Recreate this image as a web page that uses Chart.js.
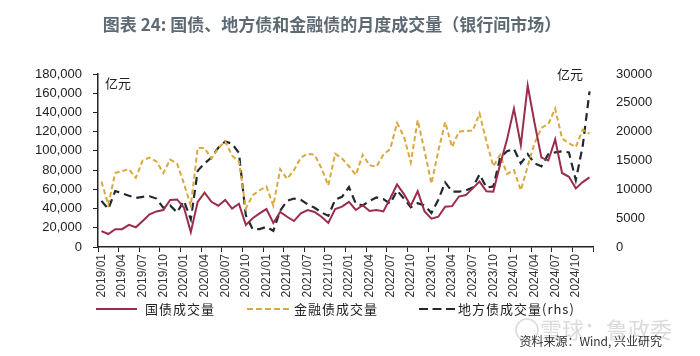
<!DOCTYPE html>
<html><head><meta charset="utf-8">
<script src="https://cdn.jsdelivr.net/npm/chart.js@4.4.1/dist/chart.umd.min.js"></script>
<style>html,body{margin:0;padding:0;background:#fff;}#wrap{position:relative;width:700px;height:356px;}</style>
</head><body><div id="wrap"><canvas id="c" width="700" height="356"></canvas></div>
<script>
// Categories: monthly, 2019/01 - 2024/12
const years = [2019, 2020, 2021, 2022, 2023, 2024];
const monthNames = ['01','02','03','04','05','06','07','08','09','10','11','12'];
const months = [];
years.forEach(y => monthNames.forEach(m => months.push(y + '/' + m)));

// 国债成交量 (亿元, left axis)
const govBond = [16500,13500,18500,18500,23000,20500,27000,34000,37000,38500,
  49000,49500,41000,15500,47000,56500,47000,43000,49000,40000,
  45000,23000,30000,35000,39500,25000,36500,31500,27000,35000,
  38500,36500,31500,25000,39500,42000,47000,38500,43500,37500,
  38500,37000,50500,65000,55000,43000,58000,37000,29500,31500,
  42000,42500,52500,54000,61000,68000,58000,57500,86000,112000,
  144000,106000,168000,129000,93000,90000,112000,77000,73000,61000,67500,72500];
// 金融债成交量 (亿元, left axis)
const finBond = [68000,44000,77000,79000,81000,72000,90000,93000,89000,77000,
  91000,87000,66000,43000,103000,103000,92000,103000,110000,95000,
  89000,40000,54000,59000,63000,43000,81000,71000,80000,93000,
  97000,96000,82000,64000,97000,92000,84000,75000,96000,85000,
  83500,96000,102000,129000,115000,88000,132000,100000,66000,100000,
  130000,104000,120000,121000,121000,139000,110000,84000,96000,76000,
  80000,59000,84000,108000,124000,128000,144000,113000,108000,104000,122000,118000];
// 地方债成交量 (亿元, right axis)
const localBond = [8000,6600,9700,9300,8900,8500,8700,8800,8400,6800,
  7200,6000,8000,4800,13200,14500,15500,17200,18300,17900,
  16300,5500,3100,3100,3500,2800,6300,8000,8400,8200,
  7400,6800,6000,5400,8200,8700,10400,7500,7200,8000,
  8600,8300,7500,9800,8400,6900,7600,7200,5900,8200,
  11200,9600,9600,9800,10300,12600,10300,10500,15500,16600,
  17000,14500,16100,14500,14000,16100,16400,16600,16400,11600,17500,27000];

const leftTicks = [0,20000,40000,60000,80000,100000,120000,140000,160000,180000];
const rightTicks = [0,5000,10000,15000,20000,25000,30000];

const titleText = '图表 24: 国债、地方债和金融债的月度成交量（银行间市场）';
const unitText = '亿元';
const sourceText = '资料来源：Wind, 兴业研究';
const watermarkText = '雪球：鲁政委';

const CJK = '"Noto Sans CJK SC", "Noto Sans", sans-serif';
const LAT = '"Liberation Sans", Arial, sans-serif';

const annot = {
  id: 'annot',
  afterDraw(chart) {
    const c = chart.ctx;
    const ca = chart.chartArea;
    c.save();
    // title
    c.font = 'bold 17px ' + CJK;
    c.fillStyle = '#5e6a73';
    c.textAlign = 'center';
    c.textBaseline = 'middle';
    c.fillText(titleText, 332, 25);
    // units
    c.font = '13px ' + CJK;
    c.fillStyle = '#222';
    c.textAlign = 'left';
    c.fillText(unitText, ca.left + 7, 83);
    c.fillText(unitText, ca.right - 36, 74);
    // legend
    const items = [
      {x0: 96, x1: 137, tx: 145},
      {x0: 247, x1: 290, tx: 294},
      {x0: 419, x1: 455, tx: 458}
    ];
    const ly = 309;
    chart.data.datasets.forEach((ds, i) => {
      const it = items[i];
      c.beginPath();
      c.setLineDash(i === 1 ? [6, 3] : (i === 2 ? [9, 4.5] : []));
      c.strokeStyle = ds.borderColor;
      c.lineWidth = 2;
      c.moveTo(it.x0, ly);
      c.lineTo(it.x1, ly);
      c.stroke();
      c.setLineDash([]);
      c.font = '13px ' + CJK;
      if ('letterSpacing' in c) c.letterSpacing = '1px';
      c.fillStyle = '#222';
      c.textAlign = 'left';
      c.textBaseline = 'middle';
      c.fillText(ds.label, it.tx, ly);
      if ('letterSpacing' in c) c.letterSpacing = '0px';
    });
    // watermark
    c.font = '22px ' + CJK;
    c.fillStyle = 'rgba(190,190,190,0.55)';
    c.textAlign = 'left';
    c.fillText(watermarkText, 540, 330);
    c.beginPath();
    c.strokeStyle = 'rgba(190,190,190,0.55)';
    c.lineWidth = 1.5;
    c.arc(527, 330, 11, 0, Math.PI * 2);
    c.stroke();
    // source
    c.font = '12px ' + CJK;
    c.fillStyle = '#333';
    c.textAlign = 'right';
    c.fillText(sourceText, 662, 341);
    c.restore();
  }
};

new Chart(document.getElementById('c'), {
  type: 'line',
  data: {
    labels: months,
    datasets: [
      {label: '国债成交量', data: govBond, yAxisID: 'y', borderColor: '#9b2d4b', borderWidth: 2, pointRadius: 0, tension: 0},
      {label: '金融债成交量', data: finBond, yAxisID: 'y', borderColor: '#d9a93f', borderWidth: 2, borderDash: [5, 3], pointRadius: 0, tension: 0},
      {label: '地方债成交量(rhs)', data: localBond, yAxisID: 'y1', borderColor: '#1f2833', borderWidth: 2.2, borderDash: [8, 5], pointRadius: 0, tension: 0}
    ]
  },
  options: {
    responsive: false,
    animation: false,
    devicePixelRatio: 1,
    layout: {padding: {top: 74, left: 0, right: 0, bottom: 0}},
    plugins: {legend: {display: false}, tooltip: {enabled: false}, title: {display: false}},
    scales: {
      x: {
        offset: true,
        grid: {
          offset: true, drawOnChartArea: false, drawTicks: true, tickLength: 5, lineWidth: 1,
          color: ctx => (ctx.index === undefined || ctx.index % 3 === 0) ? '#222' : 'rgba(0,0,0,0)'
        },
        border: {color: '#222', width: 1.5},
        ticks: {
          autoSkip: false, maxRotation: 90, minRotation: 90, padding: 2,
          font: {family: LAT, size: 12}, color: '#333',
          callback: (v, i) => (i % 3 === 0 ? months[i] : '')
        },
        afterFit: s => { s.height = 109; }
      },
      y: {
        position: 'left', min: 0, max: 180000,
        afterBuildTicks: s => { s.ticks = leftTicks.map(v => ({value: v})); },
        ticks: {font: {family: LAT, size: 13}, color: '#222', padding: 11,
          callback: v => v.toLocaleString('en-US')},
        grid: {drawOnChartArea: false, drawTicks: true, tickLength: 5, color: '#222'},
        border: {color: '#222', width: 1.5},
        afterFit: s => { s.width = 98; }
      },
      y1: {
        position: 'right', min: 0, max: 30000,
        afterBuildTicks: s => { s.ticks = rightTicks.map(v => ({value: v})); },
        ticks: {font: {family: LAT, size: 13}, color: '#222', padding: 15,
          callback: v => String(v)},
        grid: {display: false, drawOnChartArea: false},
        border: {display: false},
        afterFit: s => { s.width = 107; }
      }
    }
  },
  plugins: [annot]
});
</script></body></html>
